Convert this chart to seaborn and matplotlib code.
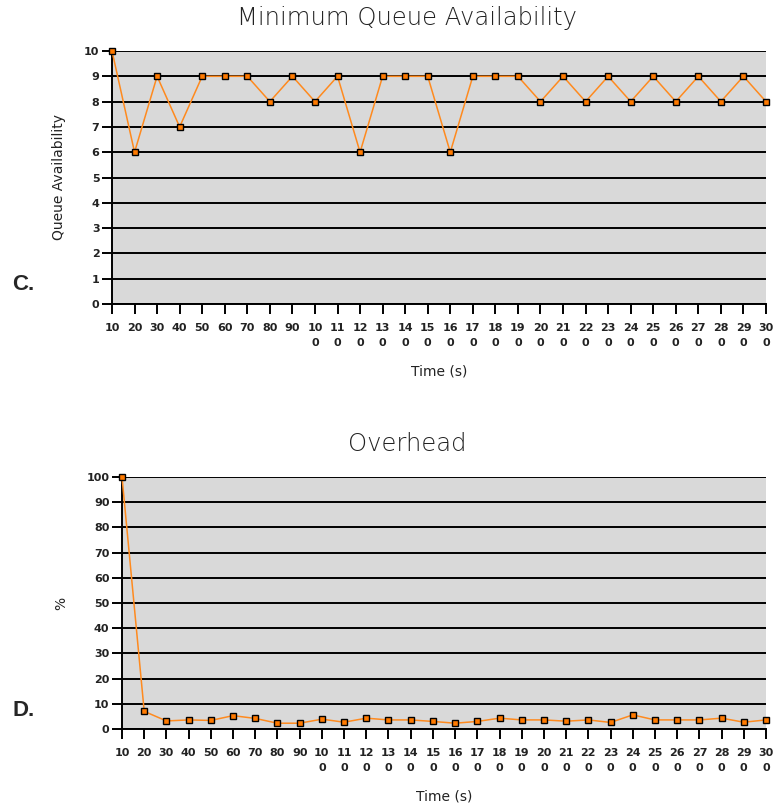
import matplotlib
matplotlib.use("Agg")
import matplotlib.pyplot as plt
import seaborn as sns
import pandas as pd

# Sampling times (s)
times = [10, 20, 30, 40, 50, 60, 70, 80, 90, 100, 110, 120, 130, 140, 150,
         160, 170, 180, 190, 200, 210, 220, 230, 240, 250, 260, 270, 280, 290, 300]

# Minimum queue availability at each sample
queue_availability = [10, 6, 9, 7, 9, 9, 9, 8, 9, 8, 9, 6, 9, 9, 9,
                      6, 9, 9, 9, 8, 9, 8, 9, 8, 9, 8, 9, 8, 9, 8]

# Overhead (%) at each sample
overhead = [100, 7.0, 3.2, 3.6, 3.4, 5.3, 4.2, 2.3, 2.3, 3.9, 2.7, 4.3, 3.6, 3.6, 3.0,
            2.3, 3.0, 4.3, 3.6, 3.6, 3.1, 3.6, 2.6, 5.6, 3.6, 3.6, 3.6, 4.3, 2.7, 3.6]

# Tick labels: three-digit times wrap onto a second line
tick_labels = [str(t) if t < 100 else f"{str(t)[:2]}\n{str(t)[2:]}" for t in times]

sns.set_style("ticks")
plt.rcParams["font.family"] = ["DejaVu Sans"]
plt.rcParams.update({
    "xtick.bottom": True, "ytick.left": True,
    "xtick.major.size": 7, "ytick.major.size": 7,
    "xtick.major.width": 1.4, "ytick.major.width": 1.4,
    "xtick.color": "black", "ytick.color": "black",
    "xtick.direction": "out", "ytick.direction": "out",
})

LINE = "#ff8a1e"
FACE = "#ff7a00"
BG = "#d9d9d9"
TXT = "#222222"

df = pd.DataFrame({"time": times, "queue": queue_availability, "overhead": overhead})

fig = plt.figure(figsize=(7.74, 8.10), dpi=100)
ax1 = fig.add_axes([112 / 774, 1 - 304 / 810, (766 - 112) / 774, 253 / 810])
ax2 = fig.add_axes([122 / 774, 1 - 729 / 810, (766 - 122) / 774, 252 / 810])


def style_panel(ax, col, yticks, title, ylabel, left_px):
    ax.set_facecolor(BG)
    sns.lineplot(data=df, x="time", y=col, ax=ax, color=LINE, linewidth=1.1,
                 marker="s", markersize=4.5, markerfacecolor=FACE,
                 markeredgecolor="black", markeredgewidth=1.0, zorder=5,
                 clip_on=False)
    ax.set_xlim(times[0], times[-1])
    ax.set_ylim(yticks[0], yticks[-1])
    ax.set_yticks(yticks)
    ax.set_xticks(times)
    ax.set_xticklabels(tick_labels, fontsize=8, color=TXT, linespacing=1.55,
                       fontweight="semibold")
    for lab in ax.get_yticklabels():
        lab.set_fontweight("semibold")
    ax.tick_params(axis="y", labelsize=8, labelcolor=TXT, pad=2,
                   length=7, width=1.4, color="black", left=True)
    ax.tick_params(axis="x", pad=7, length=7, width=1.4, color="black", bottom=True)
    for y in yticks:
        ax.axhline(y, color="black", linewidth=1.4, zorder=1)
    for s in ["top", "right"]:
        ax.spines[s].set_visible(False)
    for s in ["left", "bottom"]:
        ax.spines[s].set_color("black")
        ax.spines[s].set_linewidth(1.4)
    # titles sit centred on the page column rather than on the plot area
    width_px = 766 - left_px
    ax.set_title(title, fontsize=17.5, color="#222222", pad=19, fontweight="light",
                 x=(407 - left_px) / width_px)
    ax.set_xlabel("Time (s)", fontsize=10, color=TXT, labelpad=12)
    ax.set_ylabel(ylabel, fontsize=10, color=TXT, labelpad=13)


style_panel(ax1, "queue", list(range(0, 11)), "Minimum Queue Availability",
            "Queue Availability", 112)
style_panel(ax2, "overhead", list(range(0, 101, 10)), "Overhead", "%", 122)

fig.text(12 / 774, 1 - 285 / 810, "C.", fontsize=16, fontweight="bold",
         family=["Liberation Sans", "DejaVu Sans"], va="center", ha="left")
fig.text(12 / 774, 1 - 711 / 810, "D.", fontsize=16, fontweight="bold",
         family=["Liberation Sans", "DejaVu Sans"], va="center", ha="left")

fig.savefig("out.png", dpi=100)
